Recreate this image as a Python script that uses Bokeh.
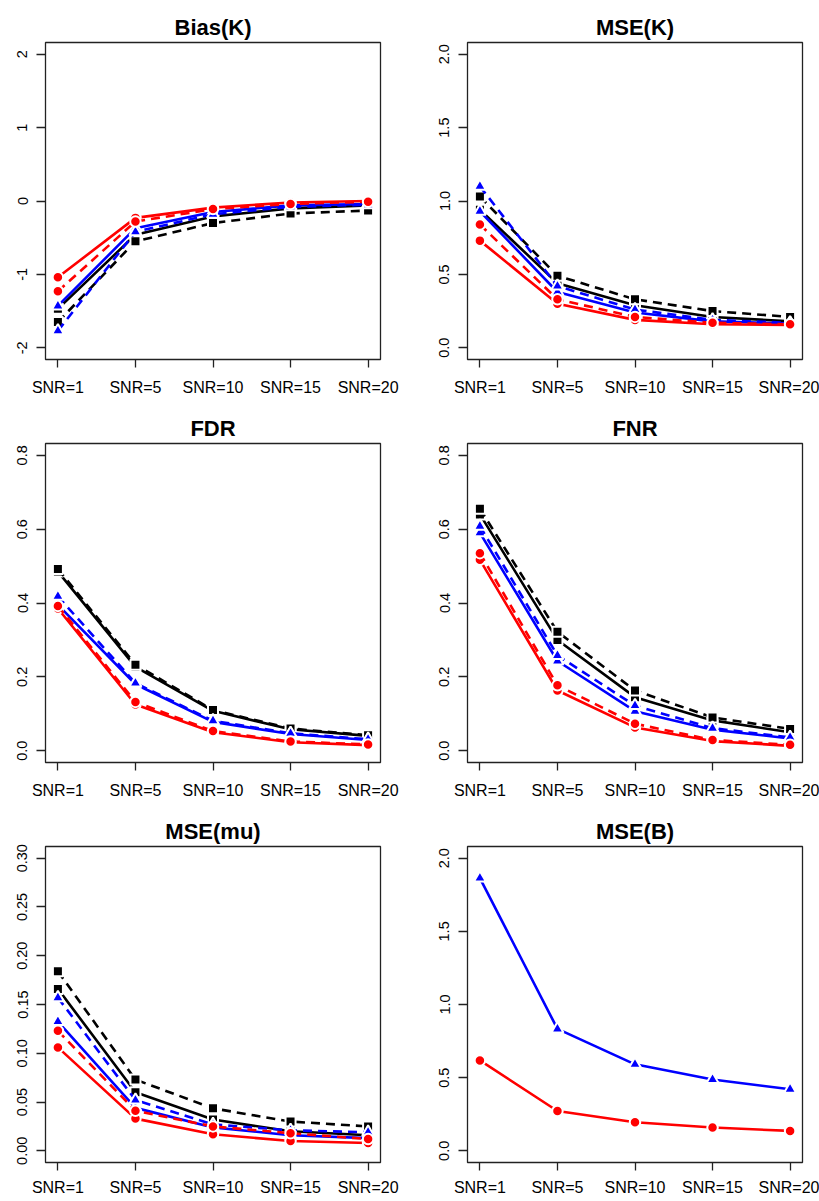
from bokeh.plotting import figure
from bokeh.layouts import row, column
from bokeh.models import Range1d, FixedTicker
from bokeh.embed import file_html
from bokeh.resources import INLINE

# ---------------- data ----------------
snr_labels = ["SNR=1", "SNR=5", "SNR=10", "SNR=15", "SNR=20"]
snr_pos = [1, 2, 3, 4, 5]

# Bias(K)
bias_black_solid = [-1.47, -0.46, -0.21, -0.10, -0.06]
bias_black_dashed = [-1.65, -0.55, -0.30, -0.17, -0.13]
bias_blue_solid = [-1.43, -0.37, -0.15, -0.06, -0.04]
bias_blue_dashed = [-1.77, -0.42, -0.18, -0.08, -0.05]
bias_red_solid = [-1.04, -0.23, -0.09, -0.02, 0.00]
bias_red_dashed = [-1.23, -0.28, -0.11, -0.04, -0.01]

# MSE(K)
msek_black_solid = [0.94, 0.44, 0.29, 0.21, 0.18]
msek_black_dashed = [1.03, 0.49, 0.33, 0.25, 0.21]
msek_blue_solid = [0.93, 0.38, 0.24, 0.18, 0.165]
msek_blue_dashed = [1.10, 0.42, 0.26, 0.19, 0.17]
msek_red_solid = [0.73, 0.30, 0.19, 0.16, 0.155]
msek_red_dashed = [0.84, 0.33, 0.21, 0.17, 0.16]

# FDR
fdr_black_solid = [0.485, 0.227, 0.108, 0.058, 0.040]
fdr_black_dashed = [0.492, 0.233, 0.110, 0.060, 0.042]
fdr_blue_solid = [0.395, 0.180, 0.078, 0.045, 0.029]
fdr_blue_dashed = [0.418, 0.183, 0.081, 0.047, 0.031]
fdr_red_solid = [0.385, 0.125, 0.050, 0.023, 0.015]
fdr_red_dashed = [0.392, 0.132, 0.053, 0.025, 0.017]

# FNR
fnr_black_solid = [0.640, 0.300, 0.145, 0.082, 0.050]
fnr_black_dashed = [0.655, 0.322, 0.163, 0.090, 0.059]
fnr_blue_solid = [0.590, 0.243, 0.107, 0.057, 0.033]
fnr_blue_dashed = [0.608, 0.258, 0.122, 0.061, 0.036]
fnr_red_solid = [0.517, 0.163, 0.063, 0.026, 0.013]
fnr_red_dashed = [0.535, 0.177, 0.073, 0.029, 0.016]

# MSE(mu)
msemu_black_solid = [0.166, 0.060, 0.032, 0.020, 0.016]
msemu_black_dashed = [0.184, 0.073, 0.0435, 0.030, 0.025]
msemu_blue_solid = [0.1325, 0.044, 0.024, 0.016, 0.013]
msemu_blue_dashed = [0.157, 0.052, 0.027, 0.021, 0.019]
msemu_red_solid = [0.106, 0.033, 0.017, 0.010, 0.008]
msemu_red_dashed = [0.123, 0.041, 0.025, 0.018, 0.012]

# MSE(B)
mseb_blue = [1.864, 0.833, 0.591, 0.487, 0.421]
mseb_red = [0.618, 0.272, 0.195, 0.159, 0.136]

# y tick labels
bias_ticks = [-2, -1, 0, 1, 2]
bias_tick_labels = ["-2", "-1", "0", "1", "2"]
msek_ticks = [0.0, 0.5, 1.0, 1.5, 2.0]
msek_tick_labels = ["0.0", "0.5", "1.0", "1.5", "2.0"]
rate_ticks = [0.0, 0.2, 0.4, 0.6, 0.8]
rate_tick_labels = ["0.0", "0.2", "0.4", "0.6", "0.8"]
mu_ticks = [0.0, 0.05, 0.10, 0.15, 0.20, 0.25, 0.30]
mu_tick_labels = ["0.00", "0.05", "0.10", "0.15", "0.20", "0.25", "0.30"]

# ---------------- styling ----------------
FONT = "Liberation Sans"
RED = "#FF0000"
BLUE = "#0000FF"
BLACK = "#000000"
DASH = "9 6"


def make_panel(title, yticks, ylabels, ymin, ymax, series,
               left, right, top, bottom, fh, xstand=11):
    pad = (ymax - ymin) * 0.04
    p = figure(frame_width=335, frame_height=fh,
               min_border_left=left, min_border_right=right,
               min_border_top=top, min_border_bottom=bottom,
               x_range=Range1d(0.84, 5.16),
               y_range=Range1d(ymin - pad, ymax + pad),
               output_backend="svg", toolbar_location=None,
               title=title)
    p.title.text_font = FONT
    p.title.text_font_size = "22px"
    p.title.text_font_style = "bold"
    p.title.align = "center"
    p.title.standoff = 5
    p.title.text_color = "black"

    p.grid.visible = False
    p.outline_line_color = "#222222"
    p.outline_line_width = 1.3
    p.background_fill_color = "white"
    p.border_fill_color = "white"

    xa = p.xaxis[0]
    xa.ticker = FixedTicker(ticks=snr_pos)
    xa.major_label_overrides = {pos: lab for pos, lab in zip(snr_pos, snr_labels)}
    xa.axis_line_color = None
    xa.major_tick_in = 0
    xa.major_tick_out = 8
    xa.major_tick_line_color = "#222222"
    xa.major_tick_line_width = 1.3
    xa.minor_tick_line_color = None
    xa.major_label_text_font = FONT
    xa.major_label_text_font_size = "16px"
    xa.major_label_text_color = "black"
    xa.major_label_standoff = xstand

    ya = p.yaxis[0]
    ya.ticker = FixedTicker(ticks=yticks)
    ya.major_label_overrides = {t: l for t, l in zip(yticks, ylabels)}
    ya.axis_line_color = None
    ya.major_tick_in = 0
    ya.major_tick_out = 9
    ya.major_tick_line_color = "#222222"
    ya.major_tick_line_width = 1.3
    ya.minor_tick_line_color = None
    ya.major_label_text_font = FONT
    ya.major_label_text_font_size = "14.5px"
    ya.major_label_text_color = "black"
    ya.major_label_orientation = "vertical"
    ya.major_label_standoff = 9

    for vals, color, dash, marker in series:
        p.line(snr_pos, vals, line_color=color, line_width=2.6, line_dash=dash)
        size = {"square": 10, "triangle": 12, "circle": 10.5}[marker]
        p.scatter(snr_pos, vals, marker=marker, size=size, fill_color=color,
                  line_color="white", line_width=2)
    return p


def six(bs, bd, us, ud, rs, rd):
    return [
        (bs, BLACK, "solid", "square"),
        (bd, BLACK, DASH, "square"),
        (us, BLUE, "solid", "triangle"),
        (ud, BLUE, DASH, "triangle"),
        (rs, RED, "solid", "circle"),
        (rd, RED, DASH, "circle"),
    ]


# row 1: height 400, row 2: height 401, row 3: height 400
p1 = make_panel("Bias(K)", bias_ticks, bias_tick_labels, -2, 2,
                six(bias_black_solid, bias_black_dashed, bias_blue_solid,
                    bias_blue_dashed, bias_red_solid, bias_red_dashed),
                45, 30, 42, 41, 317)
p2 = make_panel("MSE(K)", msek_ticks, msek_tick_labels, 0, 2,
                six(msek_black_solid, msek_black_dashed, msek_blue_solid,
                    msek_blue_dashed, msek_red_solid, msek_red_dashed),
                57, 17, 42, 41, 317)
p3 = make_panel("FDR", rate_ticks, rate_tick_labels, 0, 0.8,
                six(fdr_black_solid, fdr_black_dashed, fdr_blue_solid,
                    fdr_blue_dashed, fdr_red_solid, fdr_red_dashed),
                45, 30, 43, 39, 319)
p4 = make_panel("FNR", rate_ticks, rate_tick_labels, 0, 0.8,
                six(fnr_black_solid, fnr_black_dashed, fnr_blue_solid,
                    fnr_blue_dashed, fnr_red_solid, fnr_red_dashed),
                57, 17, 43, 39, 319)
p5 = make_panel("MSE(mu)", mu_ticks, mu_tick_labels, 0, 0.30,
                six(msemu_black_solid, msemu_black_dashed, msemu_blue_solid,
                    msemu_blue_dashed, msemu_red_solid, msemu_red_dashed),
                45, 30, 45, 38, 316, xstand=8)
p6 = make_panel("MSE(B)", msek_ticks, msek_tick_labels, 0, 2,
                [(mseb_blue, BLUE, "solid", "triangle"),
                 (mseb_red, RED, "solid", "circle")],
                57, 17, 45, 38, 316, xstand=8)

layout = column(row(p1, p2), row(p3, p4), row(p5, p6))

with open("out.html", "w") as f:
    f.write(file_html(layout, INLINE))
